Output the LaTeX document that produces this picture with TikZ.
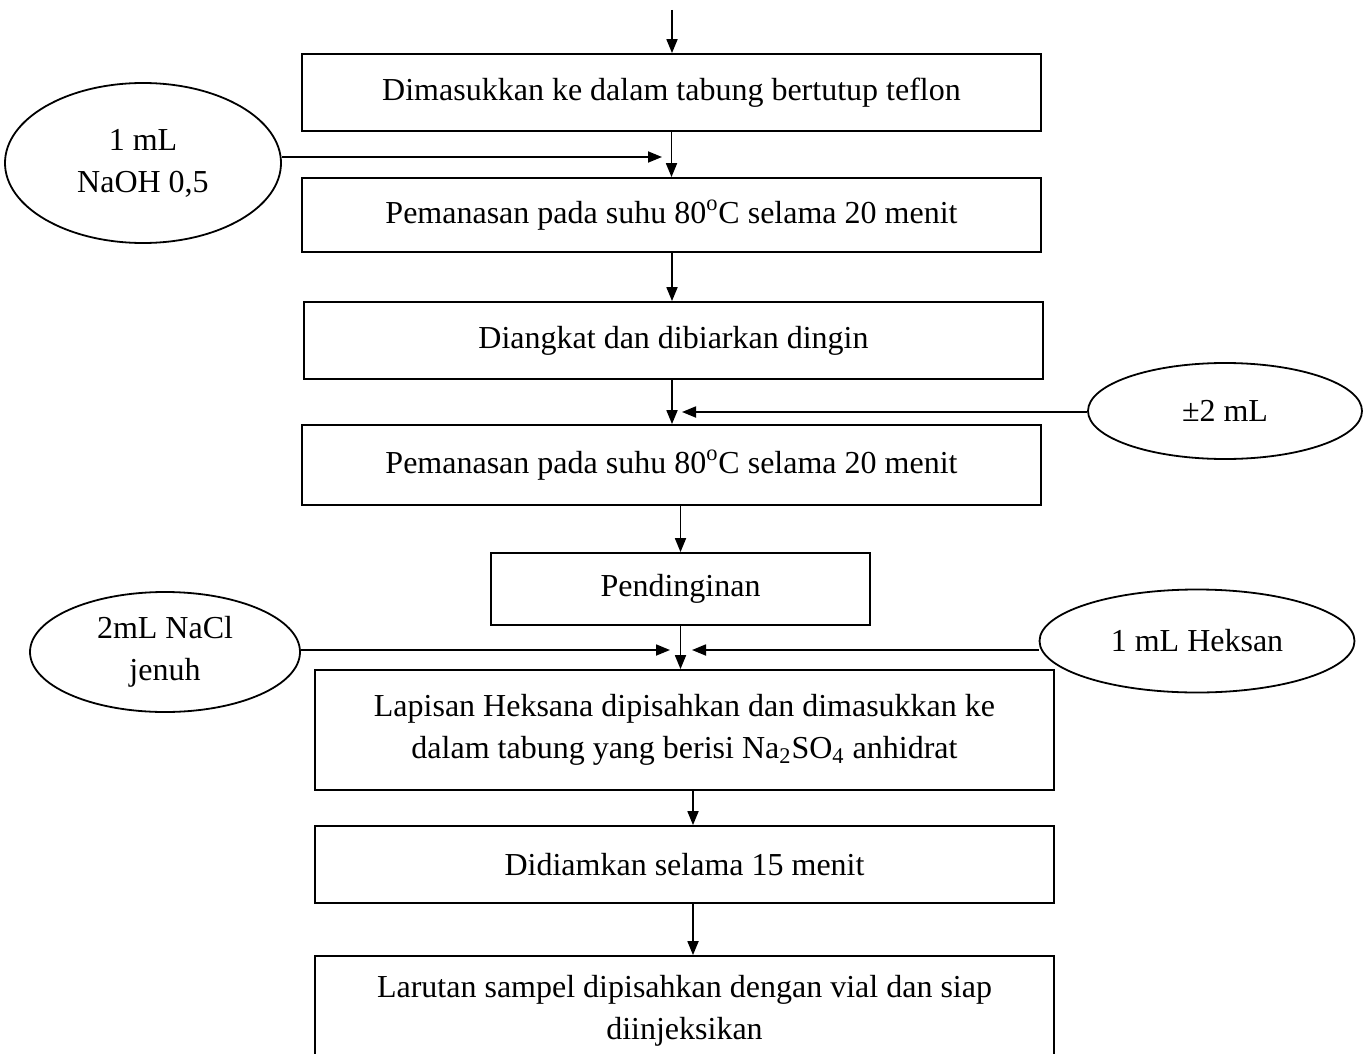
\documentclass[tikz,border=0pt]{standalone}
\usepackage{fontspec}
\setmainfont{Liberation Serif}
\usetikzlibrary{shapes.geometric,arrows.meta}
\begin{document}
\begin{tikzpicture}[x=0.5pt, y=-0.5pt, font=\fontsize{16}{21}\selectfont, line width=0.9pt, >={Triangle[length=7pt,width=5.5pt]},
		proses/.style={draw, rectangle, align=center, inner sep=0pt, minimum width=369.5pt},
		bahan/.style={draw, ellipse, align=center, inner sep=0pt}]
	\useasboundingbox (0,0) rectangle (1365,1054);
	\clip (0,0) rectangle (1365,1054);
	%kotak proses
	\node[proses, minimum height=38.5pt] (b1) at (671.5,92.5) {Dimasukkan ke dalam tabung bertutup teflon};
	\node[proses, minimum height=37pt] (b2) at (671.5,215) {Pemanasan pada suhu 80\textsuperscript{o}C selama 20 menit};
	\node[proses, minimum height=38.5pt] (b3) at (673.5,340.5) {Diangkat dan dibiarkan dingin};
	\node[proses, minimum height=40pt] (b4) at (671.5,465) {Pemanasan pada suhu 80\textsuperscript{o}C selama 20 menit};
	\node[proses, minimum width=189.5pt, minimum height=36pt] (b5) at (680.5,589) {Pendinginan};
	\node[proses, minimum height=60pt] (b6) at (684.5,730) {Lapisan Heksana dipisahkan dan dimasukkan ke\\ dalam tabung yang berisi Na\textsubscript{2}SO\textsubscript{4} anhidrat};
	\node[proses, minimum height=38.5pt] (b7) at (684.5,864.5) {Didiamkan selama 15 menit};
	\node[proses, minimum height=55pt] (b8) at (684.5,1011) {Larutan sampel dipisahkan dengan vial dan siap\\ diinjeksikan};
	%bahan tambahan
	\node[bahan, minimum width=138pt, minimum height=80pt] (e1) at (143,163) {1 mL\\ NaOH 0,5};
	\node[bahan, minimum width=137pt, minimum height=48pt] (e2) at (1225,411) {±2 mL};
	\node[bahan, minimum width=135pt, minimum height=60pt] (e3) at (165,652) {2mL NaCl\\ jenuh};
	\node[bahan, minimum width=157.5pt, minimum height=51.5pt] (e4) at (1197,641) {1 mL Heksan};
	\coordinate (mulai) at (672,10);
	\coordinate (t1) at (662,157); \coordinate (t2) at (682,412);
	\coordinate (t3) at (670,650); \coordinate (t4) at (692,650);
	%alur utama
	\draw[->] (mulai)--(mulai |- b1.north);
	\draw[->] (b1)--(b2);
	\draw[->] (b2.south -| mulai)--(mulai |- b3.north);
	\draw[->] (b3.south -| mulai)--(mulai |- b4.north);
	\draw[->] (b4.south -| b5)--(b5.north);
	\draw[->] (b5.south)--(b5.south |- b6.north);
	\draw[->] ([xshift=4.25pt]b6.south)--([xshift=4.25pt]b7.north);
	\draw[->] ([xshift=4.25pt]b7.south)--([xshift=4.25pt]b8.north);
	%masukan samping
	\draw[->] (e1.east |- t1)--(t1);
	\draw[->] (e2.west |- t2)--(t2);
	\draw[->] (e3.east |- t3)--(t3);
	\draw[->] (e4.west |- t4)--(t4);
\end{tikzpicture}
\end{document}
